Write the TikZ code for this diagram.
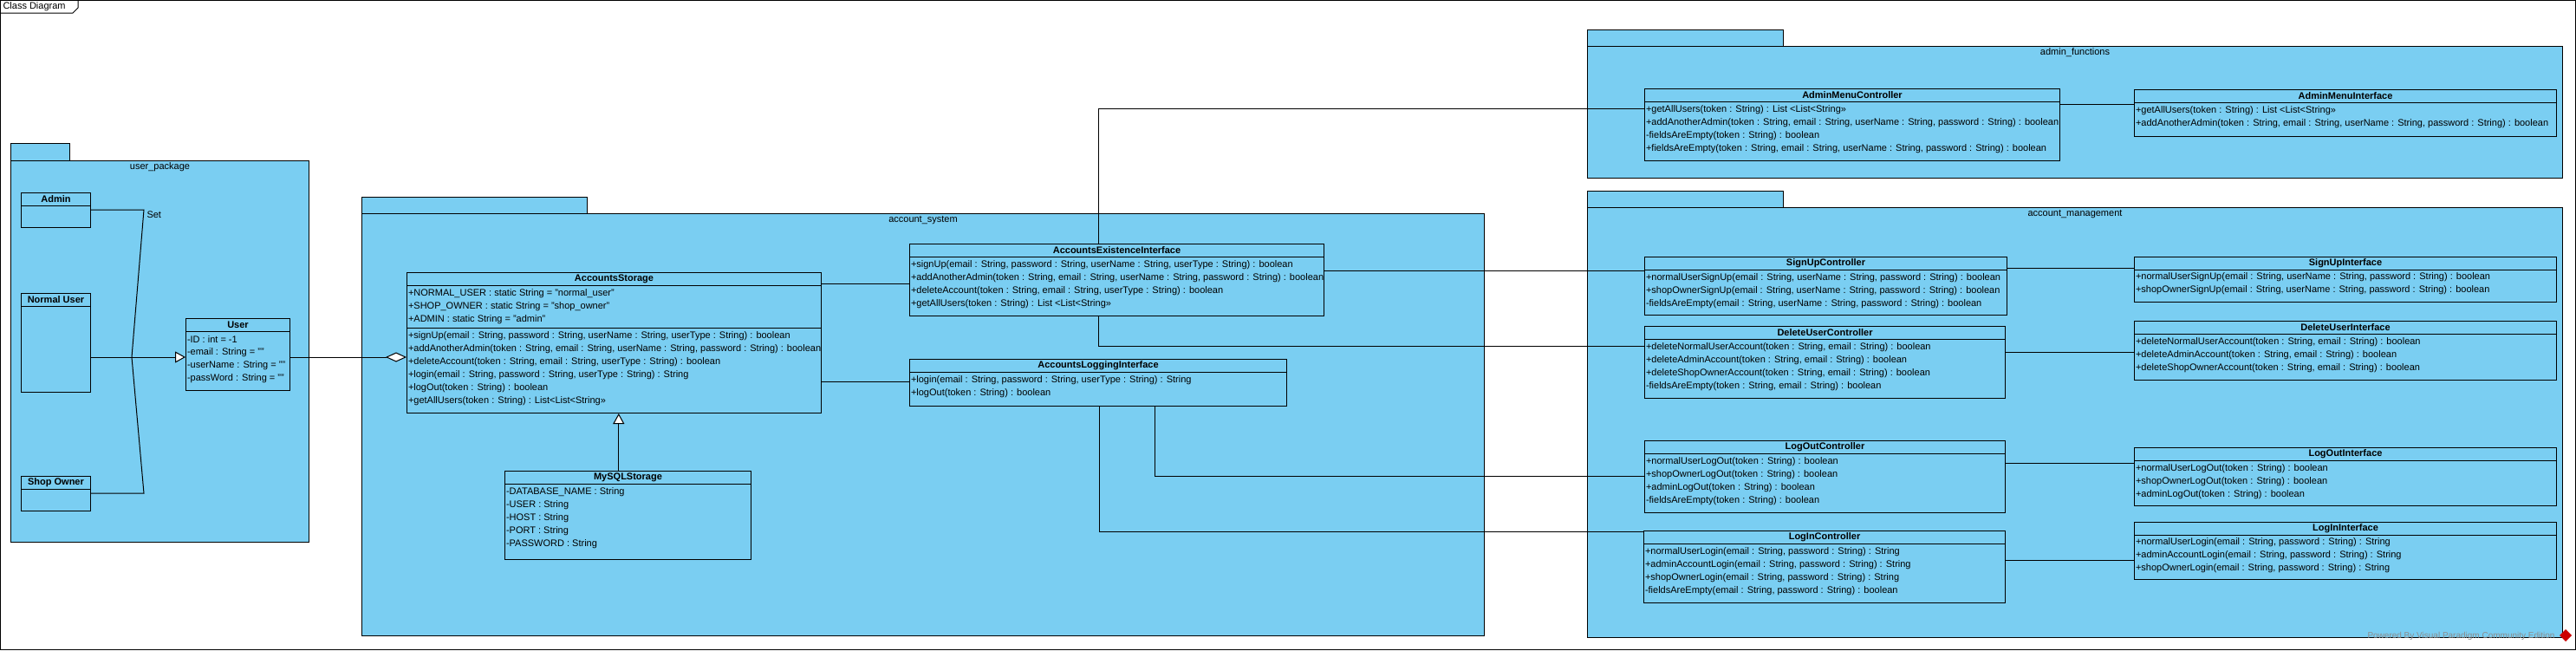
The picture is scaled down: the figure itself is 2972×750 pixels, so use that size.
\documentclass[tikz,border=0pt]{standalone}
\usepackage{fontspec}
\setmainfont{Liberation Sans}
\usetikzlibrary{arrows.meta}
\definecolor{vpblue}{RGB}{122,206,242}

% class box: name, x, y, width, height, title
\newcommand{\umlclass}[6]{%
  \node[classbox, minimum width=#4pt, minimum height=#5pt] (#1) at (#2,#3) {};
  \node[classname] (#1-name) at ([yshift=-7.5pt]#1.north) {#6};
  \draw ([yshift=-15pt]#1.north west) -- ([yshift=-15pt]#1.north east);
}
% rows: name, part, offset of first row, list of rows
\newcommand{\umlrows}[4]{%
  \foreach \row [count=\i] in {#4}
    \node[member] (#1-#2\i) at ([xshift=1.5pt,yshift={-(#3+15*(\i-1))*1pt}]#1.north west) {\row};
}

\begin{document}
\begin{tikzpicture}[x=1pt,y=-1pt,line width=1pt,line cap=butt,line join=miter,font=\fontsize{11}{13}\selectfont,
    classbox/.style={draw,fill=vpblue,anchor=north west,inner sep=0pt},
    classname/.style={font=\fontsize{11}{13}\selectfont\bfseries,inner sep=0pt},
    member/.style={anchor=west,inner sep=0pt},
    pkg/.style={draw,fill=vpblue},
    pkgbody/.style={draw,fill=vpblue,anchor=north west,inner sep=0pt},
    pkglabel/.style={inner sep=0pt},
    gen/.style={-{Triangle[length=12pt,width=13pt,fill=white]}},
    aggr/.style={-{Diamond[length=24pt,width=11pt,fill=white]}}]
  \useasboundingbox (0,0) rectangle (2972,750);
  \fill[white] (0,0) rectangle (2972,750);

  % frame
  \draw (0.5,0.5) rectangle (2971.5,749.5);
  \draw (0.5,15) -- (84,15) -- (90,9) -- (90,0.5);
  \node[anchor=west,inner sep=0pt] (title) at (3,8) {Class Diagram};

  % packages
  \draw[pkg] (12,165) rectangle (80,185);
  \node[pkgbody,minimum width=344pt,minimum height=440pt] (userpkg) at (12,185) {};
  \node[pkglabel] (userpkg-lbl) at ([yshift=-8pt]userpkg.north) {user\_package};

  \draw[pkg] (417,227) rectangle (677,246);
  \node[pkgbody,minimum width=1295pt,minimum height=487pt] (accsys) at (417,246) {};
  \node[pkglabel] (accsys-lbl) at ([yshift=-8pt]accsys.north) {account\_system};

  \draw[pkg] (1831,34) rectangle (2057,53);
  \node[pkgbody,minimum width=1125pt,minimum height=152pt] (adminfn) at (1831,53) {};
  \node[pkglabel] (adminfn-lbl) at ([yshift=-8pt]adminfn.north) {admin\_functions};

  \draw[pkg] (1831,220) rectangle (2057,239);
  \node[pkgbody,minimum width=1125pt,minimum height=496pt] (accmgmt) at (1831,239) {};
  \node[pkglabel] (accmgmt-lbl) at ([yshift=-8pt]accmgmt.north) {account\_management};

  % user_package
  \umlclass{admin}{24}{222}{80}{40}{Admin}
  \umlclass{normaluser}{24}{338}{80}{114}{Normal User}
  \umlclass{shopowner}{24}{549}{80}{40}{Shop Owner}
  \umlclass{user}{214}{367}{120}{83}{User}
  \umlrows{user}{a}{24.5}{-ID : int = -1,-email : String = "",-userName : String = "",-passWord : String = ""}

  \coordinate (gset) at (152,412);
  \draw ([yshift=-20pt]admin.north east) -- ++(61,0) -- (gset);
  \draw ([yshift=-20pt]shopowner.north east) -- ++(61,0) -- (gset);
  \draw ([yshift=-74pt]normaluser.north east) -- (gset);
  \draw[gen] (gset) -- (gset -| user.west);
  \node[anchor=west,inner sep=0pt] (setlbl) at (169,248) {Set};

  % account_system
  \umlclass{asto}{469}{314}{478}{162}{AccountsStorage}
  \draw ([yshift=-64pt]asto.north west) -- ([yshift=-64pt]asto.north east);
  \umlrows{asto}{a}{25}{+NORMAL\_USER : static String = "normal\_user",+SHOP\_OWNER : static String = "shop\_owner",+ADMIN : static String = "admin"}
  \umlrows{asto}{m}{74}{{+signUp(email : String, password : String, userName : String, userType : String) : boolean},
    {+addAnotherAdmin(token : String, email : String, userName : String, password : String) : boolean},
    {+deleteAccount(token : String, email : String, userType : String) : boolean},
    {+login(email : String, password : String, userType : String) : String},
    {+logOut(token : String) : boolean},
    {+getAllUsers(token : String) : List<List<String>>}}

  \umlclass{mysql}{582}{543}{284}{102}{MySQLStorage}
  \umlrows{mysql}{a}{25}{-DATABASE\_NAME : String,-USER : String,-HOST : String,-PORT : String,-PASSWORD : String}

  \umlclass{aei}{1049}{281}{478}{83}{AccountsExistenceInterface}
  \umlrows{aei}{m}{25}{{+signUp(email : String, password : String, userName : String, userType : String) : boolean},
    {+addAnotherAdmin(token : String, email : String, userName : String, password : String) : boolean},
    {+deleteAccount(token : String, email : String, userType : String) : boolean},
    {+getAllUsers(token : String) : List <List<String>>}}

  \umlclass{ali}{1049}{414}{435}{54}{AccountsLoggingInterface}
  \umlrows{ali}{m}{25}{{+login(email : String, password : String, userType : String) : String},
    {+logOut(token : String) : boolean}}

  \coordinate (u-out) at ([yshift=-45pt]user.north east);
  \draw[aggr] (u-out) -- (u-out -| asto.west);
  \coordinate (my-up) at ([xshift=-10.7pt]mysql.north);
  \draw[gen] (my-up) -- (my-up |- asto.south);
  \draw ([yshift=-13pt]asto.north east) -- ([yshift=-13pt]asto.north east -| aei.west);
  \draw ([yshift=-126pt]asto.north east) -- ([yshift=-126pt]asto.north east -| ali.west);

  % admin_functions
  \umlclass{amc}{1897}{102}{479}{83}{AdminMenuController}
  \umlrows{amc}{m}{25}{{+getAllUsers(token : String) : List <List<String>>},
    {+addAnotherAdmin(token : String, email : String, userName : String, password : String) : boolean},
    {-fieldsAreEmpty(token : String) : boolean},
    {+fieldsAreEmpty(token : String, email : String, userName : String, password : String) : boolean}}

  \umlclass{ami}{2462}{103}{487}{54}{AdminMenuInterface}
  \umlrows{ami}{m}{25}{{+getAllUsers(token : String) : List <List<String>>},
    {+addAnotherAdmin(token : String, email : String, userName : String, password : String) : boolean}}

  % account_management
  \umlclass{suc}{1897}{296}{418}{67}{SignUpController}
  \umlrows{suc}{m}{24.5}{{+normalUserSignUp(email : String, userName : String, password : String) : boolean},
    {+shopOwnerSignUp(email : String, userName : String, password : String) : boolean},
    {-fieldsAreEmpty(email : String, userName : String, password : String) : boolean}}

  \umlclass{duc}{1897}{376}{416}{83}{DeleteUserController}
  \umlrows{duc}{m}{25}{{+deleteNormalUserAccount(token : String, email : String) : boolean},
    {+deleteAdminAccount(token : String, email : String) : boolean},
    {+deleteShopOwnerAccount(token : String, email : String) : boolean},
    {-fieldsAreEmpty(token : String, email : String) : boolean}}

  \umlclass{loc}{1897}{508}{416}{83}{LogOutController}
  \umlrows{loc}{m}{25}{{+normalUserLogOut(token : String) : boolean},
    {+shopOwnerLogOut(token : String) : boolean},
    {+adminLogOut(token : String) : boolean},
    {-fieldsAreEmpty(token : String) : boolean}}

  \umlclass{lic}{1896}{612}{417}{83}{LogInController}
  \umlrows{lic}{m}{24.5}{{+normalUserLogin(email : String, password : String) : String},
    {+adminAccountLogin(email : String, password : String) : String},
    {+shopOwnerLogin(email : String, password : String) : String},
    {-fieldsAreEmpty(email : String, password : String) : boolean}}

  \umlclass{sui}{2462}{296}{487}{52}{SignUpInterface}
  \umlrows{sui}{m}{24}{{+normalUserSignUp(email : String, userName : String, password : String) : boolean},
    {+shopOwnerSignUp(email : String, userName : String, password : String) : boolean}}

  \umlclass{dui}{2462}{370}{487}{68}{DeleteUserInterface}
  \umlrows{dui}{m}{24.5}{{+deleteNormalUserAccount(token : String, email : String) : boolean},
    {+deleteAdminAccount(token : String, email : String) : boolean},
    {+deleteShopOwnerAccount(token : String, email : String) : boolean}}

  \umlclass{loi}{2462}{516}{487}{67}{LogOutInterface}
  \umlrows{loi}{m}{24.5}{{+normalUserLogOut(token : String) : boolean},
    {+shopOwnerLogOut(token : String) : boolean},
    {+adminLogOut(token : String) : boolean}}

  \umlclass{lii}{2462}{602}{487}{66}{LogInInterface}
  \umlrows{lii}{m}{24}{{+normalUserLogin(email : String, password : String) : String},
    {+adminAccountLogin(email : String, password : String) : String},
    {+shopOwnerLogin(email : String, password : String) : String}}

  % connectors
  \draw ([xshift=218.7pt]aei.north west) |- ([yshift=-23pt]amc.north west);
  \draw ([yshift=-31pt]aei.north east) -- ([yshift=-31pt]aei.north east -| suc.west);
  \draw ([xshift=218.7pt]aei.south west) |- ([yshift=-23pt]duc.north west);
  \draw ([xshift=219pt]ali.south west) |- ([yshift=-1pt]lic.north west);
  \draw ([xshift=283pt]ali.south west) |- ([yshift=-41pt]loc.north west);
  \draw ([yshift=-18pt]amc.north east) -- ([yshift=-18pt]amc.north east -| ami.west);
  \draw ([yshift=-13pt]suc.north east) -- ([yshift=-13pt]suc.north east -| sui.west);
  \draw ([yshift=-30pt]duc.north east) -- ([yshift=-30pt]duc.north east -| dui.west);
  \draw ([yshift=-26pt]loc.north east) -- ([yshift=-26pt]loc.north east -| loi.west);
  \draw ([yshift=-34pt]lic.north east) -- ([yshift=-34pt]lic.north east -| lii.west);

  % watermark
  \node[anchor=east,inner sep=0pt,text=black!45,font=\fontsize{10}{12}\selectfont] (wm) at (2948,734) {Powered By Visual Paradigm Community Edition};
  \fill[red!80!black] (2953,733) -- (2960,726) -- (2967,733) -- (2960,740) -- cycle;
\end{tikzpicture}
\end{document}
